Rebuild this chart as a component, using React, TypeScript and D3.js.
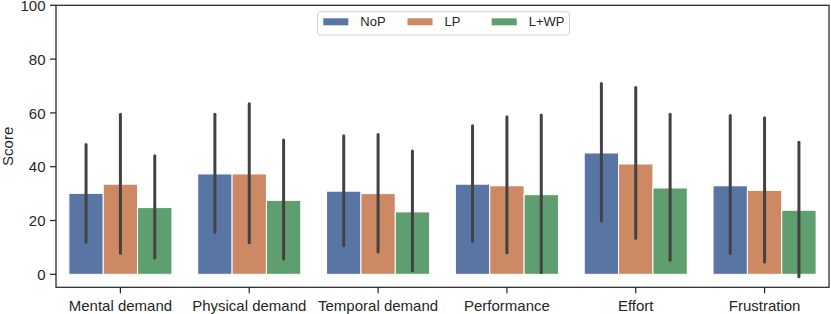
import React from "react";
import * as d3 from "d3";

const categories = ["Mental demand", "Physical demand", "Temporal demand", "Performance", "Effort", "Frustration"];
const seriesNames = ["NoP", "LP", "L+WP"];
const colors = ["#5975A4", "#CC8963", "#5F9E6E"];
const meanNoP = [30.1, 37.3, 30.9, 33.5, 45.1, 32.9];
const meanLP = [33.5, 37.3, 30.0, 32.9, 41.0, 31.2];
const meanLWP = [24.8, 27.5, 23.2, 29.6, 32.1, 23.8];
const lowNoP = [11.9, 15.6, 10.6, 12.3, 19.8, 7.7];
const highNoP = [48.3, 59.5, 51.5, 55.2, 70.9, 59.0];
const lowLP = [7.8, 11.7, 8.3, 8.0, 13.4, 4.6];
const highLP = [59.5, 63.4, 52.0, 58.6, 69.4, 58.2];
const lowLWP = [6.1, 5.7, 1.3, 0.7, 5.2, -0.9];
const highLWP = [44.1, 49.9, 45.8, 59.2, 59.5, 49.1];
const yTicks = [0, 20, 40, 60, 80, 100];

const means = [meanNoP, meanLP, meanLWP];
const lows = [lowNoP, lowLP, lowLWP];
const highs = [highNoP, highLP, highLWP];

export default function App() {
  const W = 831, H = 314;
  const left = 56, right = 829, top = 5.3, bottom = 287.3;
  const x = d3.scaleLinear().domain([-0.5, categories.length - 0.5]).range([left, right]);
  const y = d3.scaleLinear().domain([-4.83, 100]).range([bottom, top]);
  const bw = 0.8 / 3;
  const font = "'Liberation Sans', Arial, sans-serif";
  const textColor = "#262626";

  return (
    <svg width={W} height={H} style={{ position: "absolute", left: 0, top: 0, background: "#fff" }} fontFamily={font}>
      {means.map((arr, s) =>
        arr.map((v, i) => {
          const x0 = x(i - 0.4 + s * bw);
          const x1 = x(i - 0.4 + (s + 1) * bw);
          return (
            <rect key={`b${s}-${i}`} x={x0} y={y(v)} width={x1 - x0} height={y(0) - y(v)}
              fill={colors[s]} stroke="#fff" strokeWidth={1} />
          );
        })
      )}
      {means.map((arr, s) =>
        arr.map((_, i) => {
          const cx = x(i - 0.4 + (s + 0.5) * bw);
          return (
            <line key={`e${s}-${i}`} x1={cx} x2={cx} y1={y(lows[s][i])} y2={y(highs[s][i])}
              stroke="#424242" strokeWidth={3} strokeLinecap="round" />
          );
        })
      )}
      <rect x={left} y={top} width={right - left} height={bottom - top} fill="none" stroke={textColor} strokeWidth={1.25} />
      {yTicks.map((t) => (
        <g key={`yt${t}`}>
          <line x1={left - 6} x2={left} y1={y(t)} y2={y(t)} stroke={textColor} strokeWidth={1.25} />
          <text x={left - 10.5} y={y(t)} dy="0.38em" textAnchor="end" fontSize={15} fill={textColor}>{t}</text>
        </g>
      ))}
      {categories.map((c, i) => (
        <g key={`xt${i}`}>
          <line x1={x(i)} x2={x(i)} y1={bottom} y2={bottom + 6} stroke={textColor} strokeWidth={1.25} />
          <text x={x(i)} y={311} textAnchor="middle" fontSize={15} fill={textColor}>{c}</text>
        </g>
      ))}
      <text transform={`translate(${12.5},${(top + bottom) / 2}) rotate(-90)`} textAnchor="middle" fontSize={15} fill={textColor}>Score</text>
      <rect x={317.5} y={11.7} width={252} height={23.3} rx={3} fill="#fff" fillOpacity={0.8} stroke="#d0d0d0" strokeWidth={1} />
      {seriesNames.map((n, s) => (
        <g key={`lg${s}`} transform={`translate(${323.3 + s * 84.2},0)`}>
          <rect x={0} y={18.3} width={25} height={7} fill={colors[s]} />
          <text x={37} y={21.8} dy="0.35em" fontSize={13} fill={textColor}>{n}</text>
        </g>
      ))}
    </svg>
  );
}
